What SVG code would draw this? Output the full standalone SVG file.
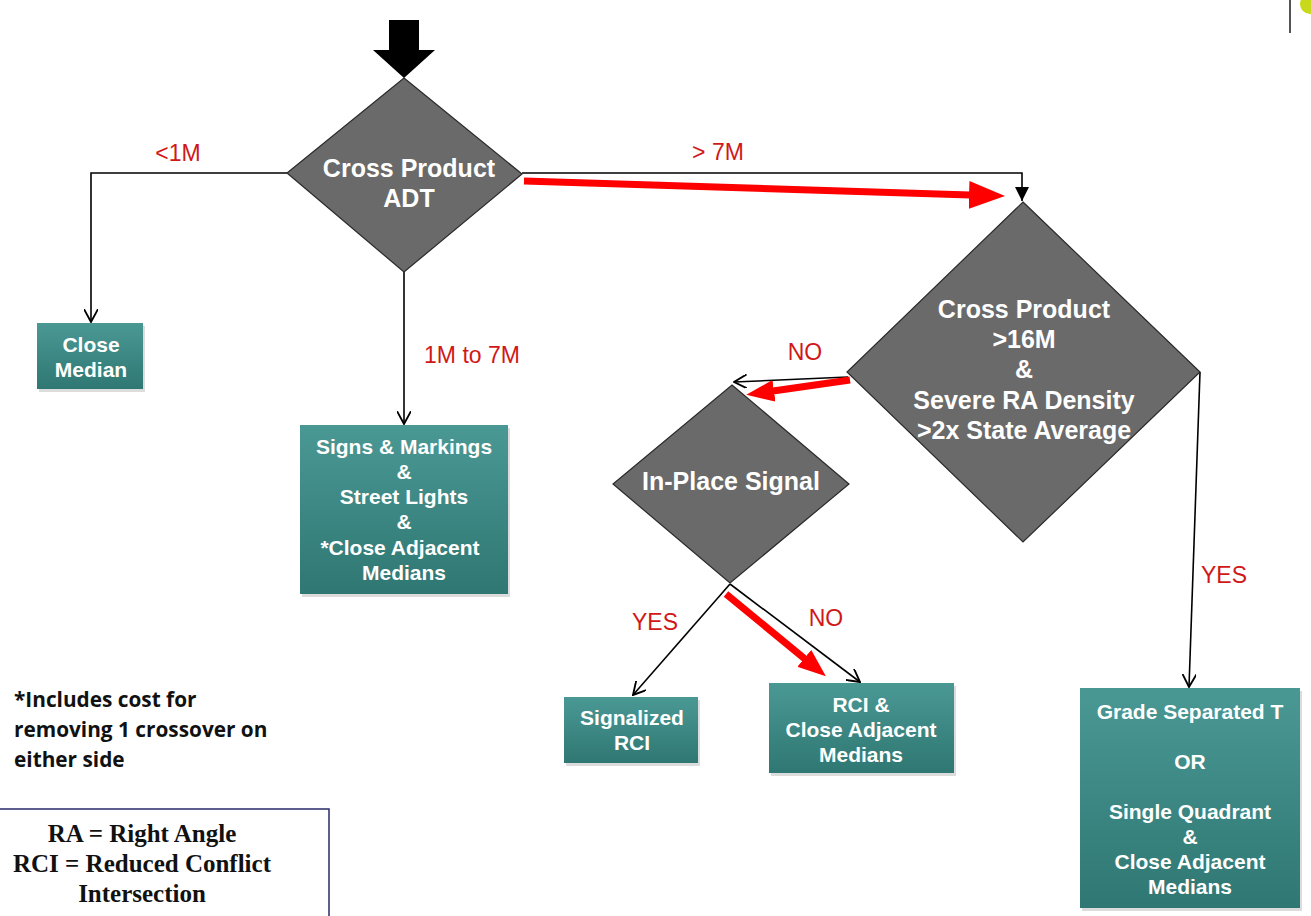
<svg xmlns="http://www.w3.org/2000/svg" width="1311" height="916" viewBox="0 0 1311 916">
<defs>
<style>
.dia{fill:#6a6a6a;stroke:#2a2a2a;stroke-width:1.2}
.box{fill:url(#teal)}
.shadow{fill:#9a9a9a;opacity:0.35}
.t{font-family:"Liberation Sans",Arial,sans-serif;font-weight:bold;fill:#ffffff;text-anchor:middle}
.td{font-size:25px}
.tb{font-size:21px}
.lbl{font-family:"Liberation Sans",Arial,sans-serif;font-size:23px;fill:#d01818}
.con{fill:none;stroke:#000;stroke-width:1.6}
.red{fill:none;stroke:#ff0000;stroke-width:7}
.note{font-family:"Open Sans",Lato,sans-serif;font-weight:bold;font-size:20.8px;fill:#111}
.leg{font-family:"Liberation Serif","Times New Roman",serif;font-weight:bold;font-size:25px;fill:#111;text-anchor:middle}
</style>
<linearGradient id="teal" x1="0" y1="0" x2="0" y2="1">
<stop offset="0" stop-color="#4a9894"/>
<stop offset="1" stop-color="#2f7773"/>
</linearGradient>
<marker id="open" viewBox="0 0 12 12" refX="11" refY="6" markerWidth="14" markerHeight="14" markerUnits="userSpaceOnUse" orient="auto">
<path d="M0,0 L11,6 L0,12" fill="none" stroke="#000" stroke-width="1.6"/>
</marker>
<marker id="fill" viewBox="0 0 12 12" refX="12" refY="6" markerWidth="14" markerHeight="14" markerUnits="userSpaceOnUse" orient="auto">
<path d="M0,0 L12,6 L0,12 Z" fill="#000"/>
</marker>
<marker id="redBig" viewBox="0 0 36 28" refX="1" refY="14" markerWidth="36" markerHeight="28" markerUnits="userSpaceOnUse" orient="auto">
<path d="M0,0 L36,14 L0,28 Z" fill="#ff0000"/>
</marker>
<marker id="redMed" viewBox="0 0 28 22" refX="1" refY="11" markerWidth="28" markerHeight="22" markerUnits="userSpaceOnUse" orient="auto">
<path d="M0,0 L28,11 L0,22 Z" fill="#ff0000"/>
</marker>
</defs>
<rect x="0" y="0" width="1311" height="916" fill="#ffffff"/>
<line x1="1290" y1="0" x2="1290" y2="33" stroke="#555" stroke-width="2"/>
<circle cx="1310" cy="4" r="10" fill="#c8d81a"/>

<g id="connectors">
<path d="M373,50 L389,50 L389,20 L419,20 L419,50 L435,50 L404,78 Z" fill="#000"/>
<path class="con" d="M287,173 L91,173 L91,322" marker-end="url(#open)"/>
<path class="con" d="M404,272 L404,424" marker-end="url(#open)"/>
<path class="con" d="M522,173 L1022,173 L1022,201" marker-end="url(#fill)"/>
<path class="con" d="M848,377 L734,382" marker-end="url(#open)"/>
<path class="con" d="M730,584 L633,695" marker-end="url(#open)"/>
<path class="con" d="M730,584 L860,682" marker-end="url(#open)"/>
<path class="con" d="M1200,372 L1189,687" marker-end="url(#open)"/>
<line class="red" x1="524" y1="181" x2="970" y2="195" marker-end="url(#redBig)"/>
<line class="red" x1="850" y1="380" x2="773" y2="391" marker-end="url(#redMed)"/>
<line class="red" x1="726" y1="594" x2="805" y2="659" marker-end="url(#redMed)"/>
<text class="lbl" x="178" y="161" text-anchor="middle">&lt;1M</text>
<text class="lbl" x="472" y="363" text-anchor="middle">1M to 7M</text>
<text class="lbl" x="718" y="160" text-anchor="middle">&gt; 7M</text>
<text class="lbl" x="805" y="360" text-anchor="middle">NO</text>
<text class="lbl" x="655" y="630" text-anchor="middle">YES</text>
<text class="lbl" x="826" y="626" text-anchor="middle">NO</text>
<text class="lbl" x="1224" y="583" text-anchor="middle">YES</text>
</g>

<g id="d1">
<polygon class="dia" points="404,78 522,174 404,272 287,173"/>
<text class="t td" x="409" y="177">Cross Product</text>
<text class="t td" x="409" y="207">ADT</text>
</g>

<g id="close-median">
<rect class="shadow" x="39" y="326" width="106" height="66"/>
<rect class="box" x="37" y="323" width="106" height="66"/>
<text class="t tb" x="91" y="352">Close</text>
<text class="t tb" x="91" y="377">Median</text>
</g>

<g id="signs">
<rect class="shadow" x="302" y="428" width="208" height="169"/>
<rect class="box" x="300" y="425" width="208" height="169"/>
<text class="t tb" x="404" y="454">Signs &amp; Markings</text>
<text class="t tb" x="404" y="479">&amp;</text>
<text class="t tb" x="404" y="504">Street Lights</text>
<text class="t tb" x="404" y="529">&amp;</text>
<text class="t tb" x="400" y="555">*Close Adjacent</text>
<text class="t tb" x="404" y="580">Medians</text>
</g>

<g id="d2">
<polygon class="dia" points="1023,202 1200,372 1023,542 847,372"/>
<text class="t td" x="1024" y="318">Cross Product</text>
<text class="t td" x="1024" y="348">&gt;16M</text>
<text class="t td" x="1024" y="378">&amp;</text>
<text class="t td" x="1024" y="409">Severe RA Density</text>
<text class="t td" x="1024" y="439">&gt;2x State Average</text>
</g>

<g id="d3">
<polygon class="dia" points="732,385 849,484 730,583 613,484"/>
<text class="t td" x="731" y="490">In-Place Signal</text>
</g>

<g id="signalized-rci">
<rect class="shadow" x="566" y="700" width="134" height="66"/>
<rect class="box" x="564" y="697" width="134" height="66"/>
<text class="t tb" x="632" y="725">Signalized</text>
<text class="t tb" x="632" y="750">RCI</text>
</g>

<g id="rci-close">
<rect class="shadow" x="771" y="686" width="185" height="90"/>
<rect class="box" x="769" y="683" width="185" height="90"/>
<text class="t tb" x="861" y="712">RCI &amp;</text>
<text class="t tb" x="861" y="737">Close Adjacent</text>
<text class="t tb" x="861" y="762">Medians</text>
</g>

<g id="grade-separated">
<rect class="shadow" x="1082" y="691" width="220" height="220"/>
<rect class="box" x="1080" y="688" width="220" height="220"/>
<text class="t tb" x="1190" y="719">Grade Separated T</text>
<text class="t tb" x="1190" y="769">OR</text>
<text class="t tb" x="1190" y="819">Single Quadrant</text>
<text class="t tb" x="1190" y="844">&amp;</text>
<text class="t tb" x="1190" y="869">Close Adjacent</text>
<text class="t tb" x="1190" y="894">Medians</text>
</g>

<g id="footnote">
<text class="note" x="14" y="707">*Includes cost for</text>
<text class="note" x="14" y="737">removing 1 crossover on</text>
<text class="note" x="14" y="767">either side</text>
</g>

<g id="legend">
<rect x="-2" y="809" width="331" height="120" fill="#ffffff" stroke="#2a2a6a" stroke-width="1.5"/>
<text class="leg" x="142" y="842">RA = Right Angle</text>
<text class="leg" x="142" y="872">RCI = Reduced Conflict</text>
<text class="leg" x="142" y="902">Intersection</text>
</g>
</svg>
